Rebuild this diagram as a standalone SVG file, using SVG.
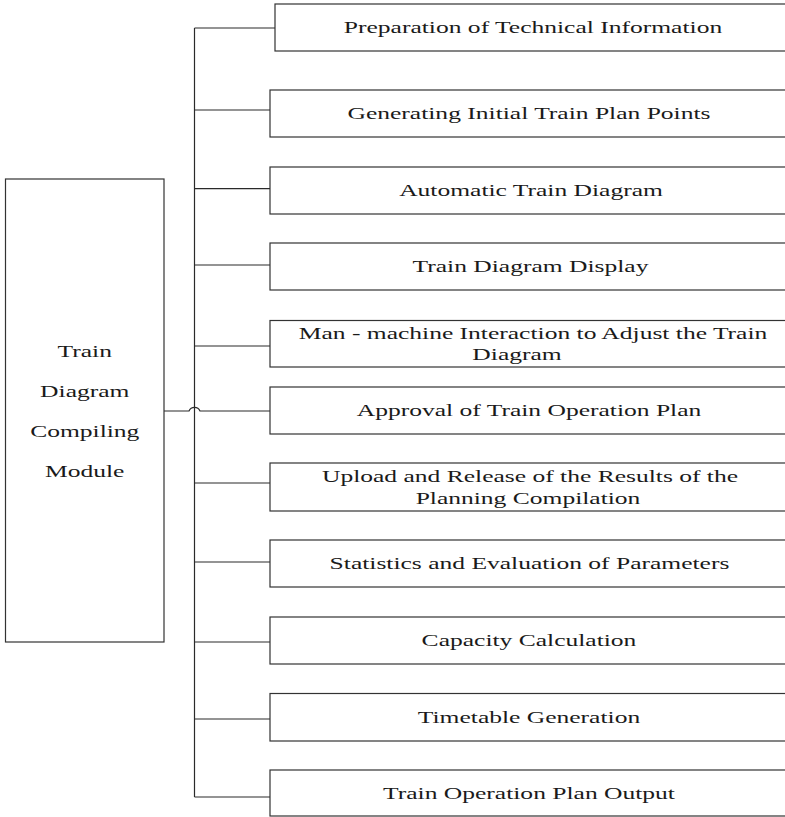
<svg xmlns="http://www.w3.org/2000/svg" width="785" height="817" viewBox="0 0 785 817">
  <style>
    .box { fill: #ffffff; stroke: #333333; stroke-width: 1.2; }
    .wire { fill: none; stroke: #2a2a2a; stroke-width: 1.2; }
    .lbl { font-family: "Liberation Serif", "Times New Roman", serif; font-size: 17.5px; fill: #1a1a1a; text-anchor: middle; }
  </style>
  <rect width="785" height="817" fill="#ffffff"/>

  <!-- connectors: trunk, branches, and the hopped link from the module box -->
  <g id="connectors">
    <path class="wire" d="M194.5 28 V797"/>
    <path class="wire" d="M194.5 28 H275"/>
    <path class="wire" d="M194.5 110 H270"/>
    <path class="wire" d="M194.5 188.7 H270"/>
    <path class="wire" d="M194.5 265 H270"/>
    <path class="wire" d="M194.5 346 H270"/>
    <path class="wire" d="M164 411 H189 A6 6 0 0 1 200 411 H270"/>
    <path class="wire" d="M194.5 483 H270"/>
    <path class="wire" d="M194.5 562 H270"/>
    <path class="wire" d="M194.5 642 H270"/>
    <path class="wire" d="M194.5 719 H270"/>
    <path class="wire" d="M194.5 797 H270"/>
  </g>

  <g id="module">
    <rect class="box" x="5.5" y="179" width="158.5" height="463"/>
    <text class="lbl" transform="translate(84.75 356.7) scale(1.46 1)">Train</text>
    <text class="lbl" transform="translate(84.75 396.5) scale(1.46 1)">Diagram</text>
    <text class="lbl" transform="translate(84.75 436.7) scale(1.46 1)">Compiling</text>
    <text class="lbl" transform="translate(84.75 476.7) scale(1.46 1)">Module</text>
  </g>

  <g id="n1">
    <rect class="box" x="275" y="4" width="530" height="47"/>
    <text class="lbl" transform="translate(533 33.3) scale(1.46 1)">Preparation of Technical Information</text>
  </g>
  <g id="n2">
    <rect class="box" x="270" y="90" width="535" height="47"/>
    <text class="lbl" transform="translate(529 118.5) scale(1.46 1)">Generating Initial Train Plan Points</text>
  </g>
  <g id="n3">
    <rect class="box" x="270" y="167" width="535" height="47"/>
    <text class="lbl" transform="translate(531 196) scale(1.46 1)">Automatic Train Diagram</text>
  </g>
  <g id="n4">
    <rect class="box" x="270" y="243" width="535" height="47"/>
    <text class="lbl" transform="translate(530.5 272) scale(1.46 1)">Train Diagram Display</text>
  </g>
  <g id="n5">
    <rect class="box" x="270" y="320.5" width="535" height="46.5"/>
    <text class="lbl" transform="translate(533 338.5) scale(1.46 1)">Man - machine Interaction to Adjust the Train</text>
    <text class="lbl" transform="translate(517 359.5) scale(1.46 1)">Diagram</text>
  </g>
  <g id="n6">
    <rect class="box" x="270" y="387" width="535" height="47"/>
    <text class="lbl" transform="translate(529 416) scale(1.46 1)">Approval of Train Operation Plan</text>
  </g>
  <g id="n7">
    <rect class="box" x="270" y="463" width="535" height="48"/>
    <text class="lbl" transform="translate(530 482) scale(1.46 1)">Upload and Release of the Results of the</text>
    <text class="lbl" transform="translate(528 503.5) scale(1.46 1)">Planning Compilation</text>
  </g>
  <g id="n8">
    <rect class="box" x="270" y="540" width="535" height="47"/>
    <text class="lbl" transform="translate(529.5 569) scale(1.46 1)">Statistics and Evaluation of Parameters</text>
  </g>
  <g id="n9">
    <rect class="box" x="270" y="617" width="535" height="47"/>
    <text class="lbl" transform="translate(529 646) scale(1.46 1)">Capacity Calculation</text>
  </g>
  <g id="n10">
    <rect class="box" x="270" y="693.5" width="535" height="47.5"/>
    <text class="lbl" transform="translate(529 722.5) scale(1.46 1)">Timetable Generation</text>
  </g>
  <g id="n11">
    <rect class="box" x="270" y="770" width="535" height="46"/>
    <text class="lbl" transform="translate(529 798.5) scale(1.46 1)">Train Operation Plan Output</text>
  </g>
</svg>
